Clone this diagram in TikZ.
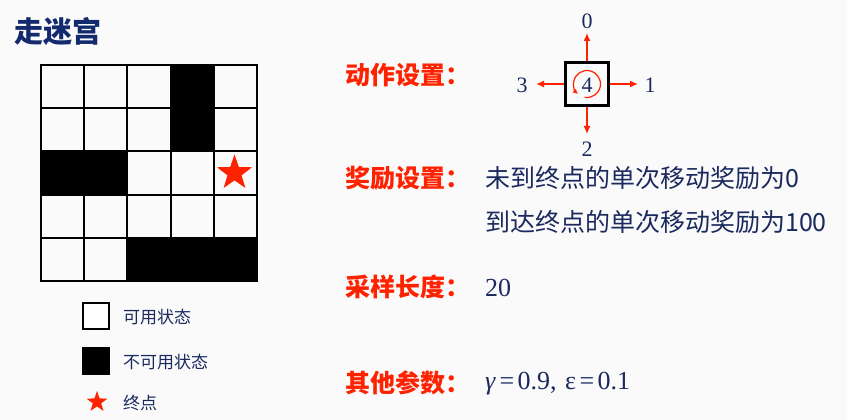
\documentclass[tikz,border=0pt]{standalone}
\usepackage{fontspec}
\setmainfont{Liberation Serif}
\newfontfamily\cjk{Noto Sans CJK SC}
\usetikzlibrary{arrows.meta,shapes.geometric}
\definecolor{navy}{HTML}{1B2A5E}
\definecolor{tnavy}{HTML}{132B6E}
\definecolor{lred}{HTML}{FF2200}
\definecolor{bg}{HTML}{FAFAFA}
\tikzset{
  gridline/.style={line width=2pt,draw=black},
  blackcell/.style={fill=black},
  goal/.style={star,star points=5,star point ratio=2.5,fill=lred,draw=none,inner sep=0pt},
  redlabel/.style={anchor=west,text=lred,font=\cjk\bfseries\fontsize{25}{29}\selectfont,inner sep=0pt},
  bodytext/.style={anchor=west,text=navy,font=\cjk\fontsize{25}{29}\selectfont,inner sep=0pt},
  serifval/.style={anchor=west,text=navy,font=\fontsize{26}{30}\selectfont,inner sep=0pt},
  legtext/.style={anchor=west,text=navy,font=\cjk\fontsize{17}{20}\selectfont,inner sep=0pt},
  legbox/.style={draw=black,line width=1.5pt,minimum size=26pt,inner sep=0pt},
  actbox/.style={draw=black,line width=2.8pt,minimum size=43pt,inner sep=0pt},
  actarrow/.style={draw=lred,line width=1.4pt,-{Latex[length=8pt,width=7pt]}},
  actnum/.style={text=navy,font=\fontsize{22}{26}\selectfont,inner sep=0pt},
}
\begin{document}
\begin{tikzpicture}[x=1pt,y=-1pt]
\fill[bg] (0,0) rectangle (847,420);
\useasboundingbox (0,0) rectangle (847,420);
% title
\node[anchor=west,text=tnavy,font=\cjk\bfseries\fontsize{29}{33}\selectfont,inner sep=0pt] (title) at (14,31) {走迷宫};
% maze grid
\def\cs{43.2}
\foreach \c/\r in {3/0,3/1,0/2,1/2,2/4,3/4,4/4}{
  \fill[blackcell] (41+\c*\cs,65+\r*\cs) rectangle ++(\cs,\cs);
}
\foreach \i in {1,2,3,4}{
  \draw[gridline] (41+\i*\cs,65) -- (41+\i*\cs,281);
  \draw[gridline] (41,65+\i*\cs) -- (257,65+\i*\cs);
}
\draw[line width=2.8pt] (41,65) rectangle (257,281);
\node[goal,minimum size=37pt] (star) at (234.5,173) {};
% legend
\node[legbox,fill=white] (lw) at (96,316) {};
\node[legtext] (lwt) at (123,317) {可用状态};
\node[legbox,fill=black] (lb) at (96,361) {};
\node[legtext] (lbt) at (123,362) {不可用状态};
\node[goal,minimum size=22pt] (ls) at (97,402) {};
\node[legtext] (lst) at (123,403) {终点};
% labels
\node[redlabel] (act) at (345,75) {动作设置：};
\node[redlabel] (rew) at (345,178) {奖励设置：};
\node[bodytext] (rew1) at (485,178) {未到终点的单次移动奖励为0};
\node[bodytext] (rew2) at (485,222) {到达终点的单次移动奖励为100};
\node[redlabel] (len) at (345,287) {采样长度：};
\node[serifval] (lenv) at (485,288) {20};
\node[redlabel] (oth) at (345,383) {其他参数：};
\node[serifval] (othv) at (485,384) {\textit{γ}\hspace{3.5pt}=\hspace{3.5pt}0.9,\hspace{2pt} ε\hspace{3.5pt}=\hspace{3.5pt}0.1};
% action box
\node[actbox] (box) at (587,84) {};
\node[actnum] (n4) at (587,85) {4};
\draw[draw=lred,line width=1.2pt,-{Latex[length=5pt,width=5pt]}] (587,84) ++(100:13.5) arc[start angle=100,end angle=-228,radius=13.5];
\coordinate (e0) at (587,33);
\coordinate (e1) at (638,84);
\coordinate (e2) at (587,134);
\coordinate (e3) at (536,84);
\draw[actarrow] (box.north) -- (e0);
\draw[actarrow] (box.east) -- (e1);
\draw[actarrow] (box.south) -- (e2);
\draw[actarrow] (box.west) -- (e3);
\node[actnum] (n0) at (587,21) {0};
\node[actnum] (n1) at (650,85) {1};
\node[actnum] (n2) at (587,149) {2};
\node[actnum] (n3) at (522,85) {3};
\end{tikzpicture}
\end{document}
